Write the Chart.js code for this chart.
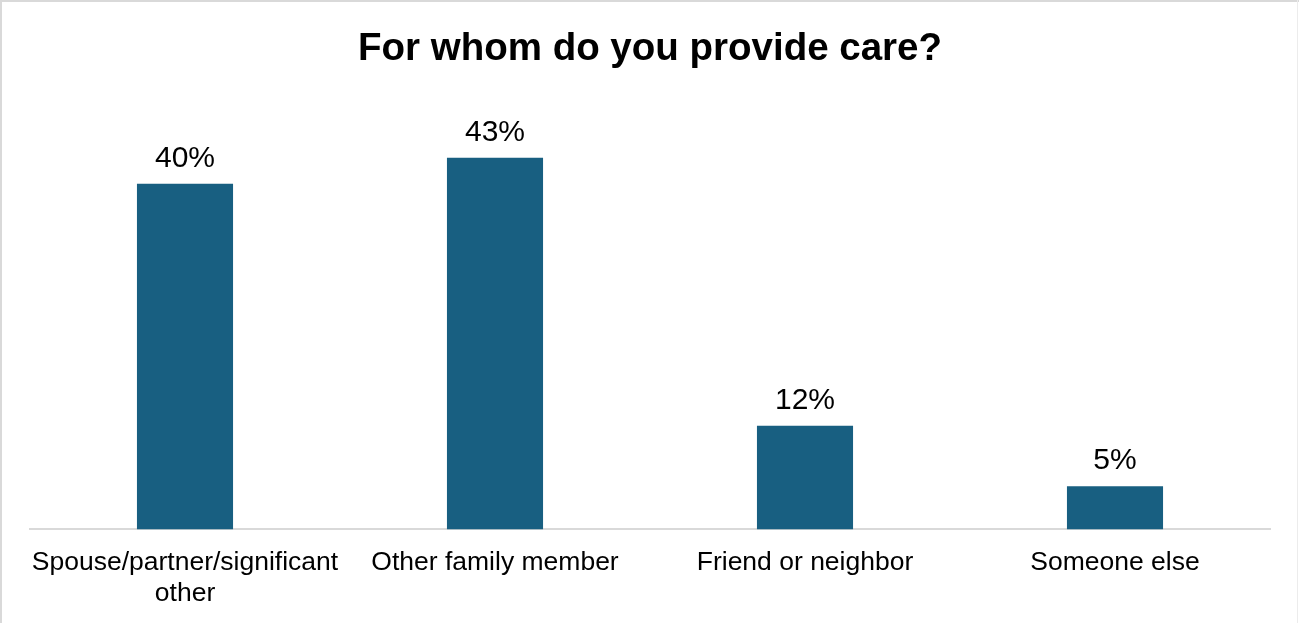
<!DOCTYPE html>
<html>
<head>
<meta charset="utf-8">
<title>For whom do you provide care?</title>
<script src="https://cdn.jsdelivr.net/npm/chart.js@4/dist/chart.umd.min.js"></script>
<style>
  html, body { margin: 0; padding: 0; background: #fff; }
  #wrap { position: relative; width: 1299px; height: 623px; }
</style>
</head>
<body>
<div id="wrap"><canvas id="careChart"></canvas></div>
<script>
// survey answers
const categories = [
    ['Spouse/partner/significant', 'other'],
    'Other family member',
    'Friend or neighbor',
    'Someone else'
];
const percentages = [40, 43, 12, 5];

const barColor = '#185F81';
const fontFamily = '"Liberation Sans", Arial, Helvetica, sans-serif';

// white background plus the thin grey frame around the chart
const framePlugin = {
    id: 'frame',
    beforeDraw(chart) {
        const ctx = chart.ctx;
        ctx.save();
        ctx.fillStyle = '#fff';
        ctx.fillRect(0, 0, chart.width, chart.height);
        ctx.fillStyle = '#d9d9d9';
        ctx.fillRect(0, 0, chart.width, 2);   // top
        ctx.fillRect(0, 0, 2, chart.height);  // left
        ctx.fillStyle = '#ececec';
        ctx.fillRect(chart.width - 2, 0, 1, chart.height); // right
        ctx.restore();
    }
};

// percentage labels above each bar
const valueLabels = {
    id: 'valueLabels',
    afterDatasetsDraw(chart) {
        const ctx = chart.ctx;
        const meta = chart.getDatasetMeta(0);
        ctx.save();
        ctx.fillStyle = '#000';
        ctx.font = '30px ' + fontFamily;
        ctx.textAlign = 'center';
        ctx.textBaseline = 'alphabetic';
        meta.data.forEach((bar, i) => {
            ctx.fillText(percentages[i] + '%', bar.x, bar.y - 17);
        });
        ctx.restore();
    }
};

new Chart(document.getElementById('careChart').getContext('2d'), {
    type: 'bar',
    data: {
        labels: categories,
        datasets: [{
            data: percentages,
            backgroundColor: barColor,
            borderWidth: 0,
            barPercentage: 0.31,
            categoryPercentage: 1.0
        }]
    },
    plugins: [framePlugin, valueLabels],
    options: {
        responsive: true,
        maintainAspectRatio: false,
        animation: false,
        layout: {
            padding: { left: 30, right: 29, top: 0, bottom: -4 }
        },
        scales: {
            x: {
                offset: true,
                grid: { display: false, drawTicks: false },
                border: { display: true, color: '#d9d9d9', width: 2 },
                ticks: {
                    color: '#000',
                    font: { family: fontFamily, size: 26.5, lineHeight: 1.2 },
                    padding: 17,
                    maxRotation: 0,
                    minRotation: 0,
                    autoSkip: false
                }
            },
            y: {
                display: false,
                min: 0,
                max: 50
            }
        },
        plugins: {
            legend: { display: false },
            tooltip: { enabled: false },
            title: {
                display: true,
                text: 'For whom do you provide care?',
                color: '#000',
                font: { family: fontFamily, size: 38.5, weight: 'bold' },
                padding: { top: 26, bottom: 25 }
            }
        }
    }
});
</script>
</body>
</html>
